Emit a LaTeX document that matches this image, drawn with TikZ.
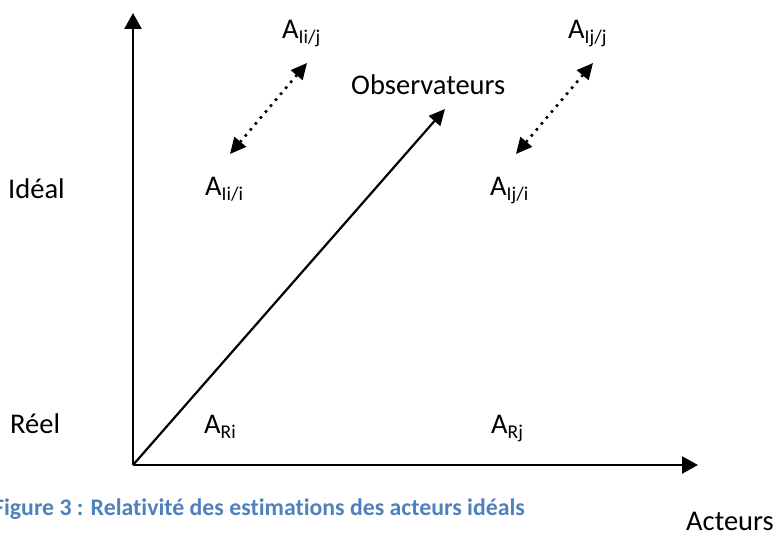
\documentclass[tikz,border=0pt]{standalone}
\usepackage{fontspec}
\setmainfont{Carlito}[Ligatures={TeX,NoCommon}]
\usetikzlibrary{arrows.meta}
\definecolor{capblue}{HTML}{4F81BD}
\newcommand{\sbx}[1]{\raisebox{-5pt}{\fontsize{19.5}{19.5}\selectfont #1}}
\begin{document}
\begin{tikzpicture}[x=1pt,y=-1pt,
  lbl/.style={inner sep=0pt,anchor=base west,font=\fontsize{28.5}{34}\selectfont},
  axis/.style={line width=2.6pt,-{Triangle[length=16pt,width=17pt]}},
  diag/.style={line width=2.2pt,-{Triangle[length=16pt,width=15pt]}},
  dotarrow/.style={line width=2.6pt,dash pattern=on 2.6pt off 5.2pt,line cap=butt,
    {Triangle[length=16pt,width=15pt]}-{Triangle[length=16pt,width=15pt]}},
  capt/.style={inner sep=0pt,anchor=base east,text=capblue,font=\fontsize{23.8}{28}\selectfont\bfseries}]
\useasboundingbox (0,0) rectangle (777,534);
\coordinate (O) at (133,465);
\coordinate (ytip) at (133,13);
\coordinate (xtip) at (698,465);
\coordinate (otip) at (445,109);
\draw[axis] (O) -- (ytip);
\draw[axis] (O) -- (xtip);
\draw[diag] (O) -- (otip);

\node[lbl] (ideal) at (8,199) {Idéal};
\node[lbl] (reel) at (10,434) {Réel};
\node[lbl] (act) at (686,530) {Acteurs};
\node[lbl] (obs) at (351,95) {Observateurs};

\node[lbl] (aiij) at (282,39) {A\sbx{Ii/j}};
\node[lbl] (aijj) at (568,39) {A\sbx{Ij/j}};
\node[lbl] (aiii) at (205,196) {A\sbx{Ii/i}};
\node[lbl] (aiji) at (490,196) {A\sbx{Ij/i}};
\node[lbl] (ari) at (204,434) {A\sbx{Ri}};
\node[lbl] (arj) at (491,434) {A\sbx{Rj}};

\coordinate (d1a) at (230,154);
\coordinate (d1b) at (307,63);
\coordinate (d2a) at (516,154);
\coordinate (d2b) at (593,63);
\draw[dotarrow] (d1a) -- (d1b);
\draw[dotarrow] (d2a) -- (d2b);

\node[capt] (cap) at (525,515) {Figure 3 : Relativité des estimations des acteurs idéals};
\end{tikzpicture}
\end{document}
